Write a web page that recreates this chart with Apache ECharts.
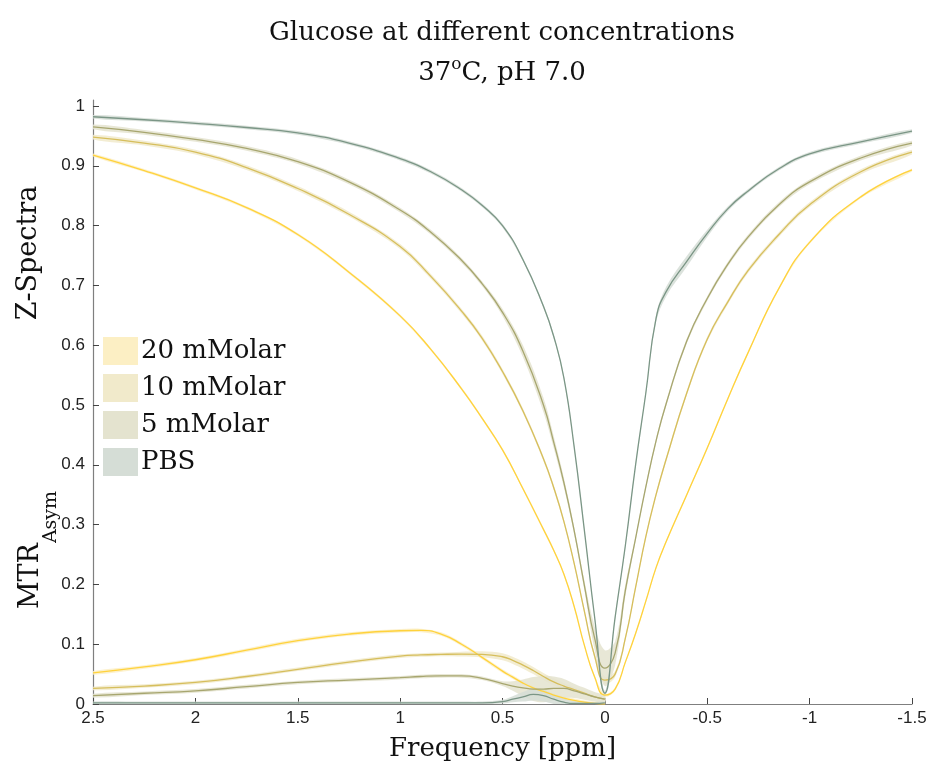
<!DOCTYPE html>
<html>
<head>
<meta charset="utf-8">
<script src="https://cdn.jsdelivr.net/npm/echarts@6/dist/echarts.min.js"></script>
<style>
  html, body { margin: 0; padding: 0; background: #ffffff; }
  #chart { width: 931px; height: 767px; }
</style>
</head>
<body>
<div id="chart"></div>
<script>
// ---- Z-spectra: normalised signal vs saturation offset (ppm) ----
const zFreq = [2.5, 2.25, 2.0, 1.75, 1.5, 1.25, 1.0, 0.85, 0.7, 0.6, 0.5, 0.4, 0.3, 0.25, 0.2, 0.15, 0.1, 0.05, 0,
               -0.05, -0.1, -0.15, -0.2, -0.25, -0.3, -0.4, -0.5, -0.6, -0.7, -0.85, -1.0, -1.25, -1.5];

const z20 = [0.918, 0.892, 0.863, 0.830, 0.785, 0.722, 0.649, 0.593, 0.527, 0.478, 0.425, 0.360, 0.292, 0.257, 0.217, 0.163, 0.098, 0.045, 0.015,
             0.025, 0.070, 0.118, 0.172, 0.228, 0.272, 0.350, 0.428, 0.510, 0.588, 0.695, 0.772, 0.848, 0.893];
const z20Sd = [0.0025, 0.0025, 0.0025, 0.0025, 0.0025, 0.0025, 0.0025, 0.0025, 0.0025, 0.0025, 0.0025, 0.0025, 0.0025, 0.0025, 0.0025, 0.0025, 0.0025, 0.0025, 0.0025,
               0.0025, 0.0025, 0.0025, 0.0025, 0.0025, 0.0025, 0.0025, 0.0025, 0.0025, 0.0025, 0.0025, 0.0025, 0.0025, 0.0025];

const z10 = [0.948, 0.938, 0.923, 0.897, 0.862, 0.819, 0.765, 0.715, 0.657, 0.612, 0.556, 0.490, 0.410, 0.362, 0.305, 0.235, 0.155, 0.080, 0.040,
             0.050, 0.110, 0.195, 0.280, 0.350, 0.410, 0.520, 0.610, 0.672, 0.725, 0.785, 0.835, 0.890, 0.923];
const z10Sd = [0.004, 0.004, 0.004, 0.004, 0.004, 0.004, 0.004, 0.004, 0.004, 0.004, 0.004, 0.004, 0.004, 0.004, 0.004, 0.004, 0.004, 0.005, 0.006,
               0.005, 0.004, 0.004, 0.004, 0.004, 0.004, 0.004, 0.004, 0.004, 0.004, 0.004, 0.004, 0.004, 0.004];

const z5 = [0.965, 0.956, 0.944, 0.929, 0.907, 0.873, 0.826, 0.789, 0.742, 0.703, 0.655, 0.590, 0.500, 0.438, 0.370, 0.290, 0.198, 0.110, 0.060,
            0.085, 0.190, 0.277, 0.363, 0.440, 0.503, 0.607, 0.678, 0.735, 0.781, 0.835, 0.873, 0.913, 0.938];
const z5Sd = [0.004, 0.004, 0.004, 0.004, 0.004, 0.004, 0.004, 0.004, 0.004, 0.004, 0.006, 0.010, 0.012, 0.010, 0.008, 0.006, 0.008, 0.020, 0.030,
              0.020, 0.010, 0.004, 0.004, 0.004, 0.004, 0.004, 0.004, 0.004, 0.004, 0.004, 0.004, 0.004, 0.004];

const zPBS = [0.982, 0.977, 0.971, 0.964, 0.955, 0.938, 0.912, 0.890, 0.860, 0.834, 0.800, 0.743, 0.665, 0.615, 0.545, 0.430, 0.290, 0.145, 0.018,
              0.145, 0.265, 0.400, 0.520, 0.645, 0.690, 0.740, 0.787, 0.828, 0.858, 0.895, 0.920, 0.940, 0.958];
const zPBSSd = [0.003, 0.003, 0.003, 0.003, 0.003, 0.003, 0.003, 0.003, 0.003, 0.003, 0.003, 0.003, 0.003, 0.003, 0.003, 0.003, 0.003, 0.003, 0.004,
                0.003, 0.003, 0.003, 0.003, 0.006, 0.008, 0.009, 0.006, 0.004, 0.003, 0.003, 0.003, 0.003, 0.003];

// ---- MTR asymmetry (positive offsets only) ----
const mtrFreq = [2.5, 2.25, 2.0, 1.75, 1.5, 1.25, 1.0, 0.9, 0.8, 0.7, 0.6, 0.5, 0.45, 0.4, 0.35, 0.3, 0.25, 0.2, 0.15, 0.1, 0.05, 0];

const mtr20 = [0.052, 0.062, 0.074, 0.090, 0.106, 0.117, 0.1225, 0.123, 0.117, 0.100, 0.078, 0.055, 0.045, 0.035, 0.027, 0.021, 0.015, 0.010, 0.006, 0.003, 0.001, 0.000];
const mtr20Sd = [0.003, 0.003, 0.003, 0.003, 0.003, 0.003, 0.003, 0.003, 0.003, 0.003, 0.003, 0.003, 0.003, 0.003, 0.003, 0.003, 0.003, 0.003, 0.003, 0.003, 0.003, 0.003];

const mtr10 = [0.026, 0.030, 0.036, 0.046, 0.058, 0.070, 0.080, 0.082, 0.083, 0.0835, 0.083, 0.079, 0.073, 0.065, 0.056, 0.046, 0.037, 0.030, 0.024, 0.018, 0.012, 0.008];
const mtr10Sd = [0.003, 0.003, 0.003, 0.003, 0.003, 0.003, 0.003, 0.003, 0.003, 0.004, 0.005, 0.006, 0.006, 0.006, 0.006, 0.006, 0.006, 0.005, 0.004, 0.003, 0.003, 0.003];

const mtr5 = [0.014, 0.018, 0.022, 0.029, 0.036, 0.040, 0.044, 0.046, 0.047, 0.047, 0.043, 0.034, 0.030, 0.027, 0.025, 0.025, 0.026, 0.026, 0.022, 0.017, 0.012, 0.008];
const mtr5Sd = [0.003, 0.003, 0.003, 0.003, 0.003, 0.003, 0.003, 0.003, 0.003, 0.003, 0.003, 0.004, 0.008, 0.014, 0.020, 0.022, 0.020, 0.016, 0.012, 0.010, 0.008, 0.006];

const mtrPBS = [0.002, 0.002, 0.002, 0.002, 0.002, 0.002, 0.002, 0.002, 0.002, 0.002, 0.002, 0.004, 0.008, 0.012, 0.016, 0.014, 0.008, 0.003, 0.001, 0.001, 0.001, 0.002];
const mtrPBSSd = [0.002, 0.002, 0.002, 0.002, 0.002, 0.002, 0.002, 0.002, 0.002, 0.002, 0.002, 0.003, 0.005, 0.008, 0.010, 0.010, 0.008, 0.006, 0.004, 0.003, 0.002, 0.002];

// ---- Axes ----
const xTicks = [2.5, 2, 1.5, 1, 0.5, 0, -0.5, -1, -1.5];
const yTicks = [0, 0.1, 0.2, 0.3, 0.4, 0.5, 0.6, 0.7, 0.8, 0.9, 1];

// ---- Groups (legend order) ----
const groupNames = ['20 mMolar', '10 mMolar', '5 mMolar', 'PBS'];
const zMeans = [z20, z10, z5, zPBS];
const zSds = [z20Sd, z10Sd, z5Sd, zPBSSd];
const mtrMeans = [mtr20, mtr10, mtr5, mtrPBS];
const mtrSds = [mtr20Sd, mtr10Sd, mtr5Sd, mtrPBSSd];

const lineColors = ['#FFD23C', '#D6BE5C', '#A7A66F', '#7B9686'];
const bandColors = ['#FCEFC4', '#F1EACB', '#E4E3CF', '#D5DDD6'];

const SERIF = '"DejaVu Serif", serif';
const SANS = '"Liberation Sans", Arial, sans-serif';
const SMOOTH = 0.5;

// shaded mean ± sd band: one polygon through the axis coordinates
function bandSeries(freq, mean, sd, g) {
  return {
    type: 'custom', name: groupNames[g], color: bandColors[g],
    silent: true, clip: true, z: 1,
    data: freq.map((f, i) => [f, mean[i] - sd[i], mean[i] + sd[i]]),
    encode: { x: 0, y: [1, 2] },
    renderItem: function (params, api) {
      if (params.dataIndex !== 0) return null;
      const upper = freq.map((f, i) => api.coord([f, mean[i] + sd[i]]));
      const lower = freq.map((f, i) => api.coord([f, mean[i] - sd[i]])).reverse();
      return {
        type: 'polygon',
        shape: { points: upper.concat(lower), smooth: 0.35 },
        style: { fill: bandColors[g], opacity: 0.85 }
      };
    }
  };
}

function meanLine(key, freq, mean, g) {
  return {
    type: 'line', name: key, data: freq.map((f, i) => [f, mean[i]]),
    symbol: 'none', smooth: SMOOTH, silent: true,
    lineStyle: { color: lineColors[g], width: 1.3 }, z: 3
  };
}

const series = [];
groupNames.forEach((name, g) => {
  series.push(bandSeries(zFreq, zMeans[g], zSds[g], g));
  series.push(bandSeries(mtrFreq, mtrMeans[g], mtrSds[g], g));
});
groupNames.forEach((name, g) => {
  series.push(meanLine('z-mean-' + g, zFreq, zMeans[g], g));
  series.push(meanLine('mtr-mean-' + g, mtrFreq, mtrMeans[g], g));
});

const chart = echarts.init(document.getElementById('chart'), null, { renderer: 'canvas' });

chart.setOption({
  animation: false,
  backgroundColor: '#ffffff',
  title: {
    text: 'Glucose at different concentrations',
    subtext: '37{sup|o}C, pH 7.0',
    left: 502, top: 20, textAlign: 'center', itemGap: 10, padding: 0,
    textStyle: { fontFamily: SERIF, fontSize: 26, fontWeight: 'normal', color: '#111' },
    subtextStyle: {
      fontFamily: SERIF, fontSize: 26, color: '#111', lineHeight: 34,
      rich: { sup: { fontFamily: SERIF, fontSize: 17, color: '#111', lineHeight: 12, verticalAlign: 'top' } }
    }
  },
  legend: {
    orient: 'vertical', left: 103, top: 337, padding: 0,
    icon: 'rect', itemWidth: 35, itemHeight: 28, itemGap: 9,
    selectedMode: false,
    textStyle: { fontFamily: SERIF, fontSize: 26, color: '#111', padding: [0, 0, 0, -2] },
    data: groupNames.map((n, g) => ({ name: n, itemStyle: { color: bandColors[g], opacity: 1 } }))
  },
  grid: { left: 93, right: 19, top: 100, bottom: 61, containLabel: false },
  xAxis: {
    type: 'value', inverse: true, min: -1.5, max: 2.5,
    name: 'Frequency [ppm]', nameLocation: 'middle', nameGap: 32,
    nameTextStyle: { fontFamily: SERIF, fontSize: 26, color: '#111' },
    axisLine: { onZero: false, lineStyle: { color: '#7f7f7f', width: 1.2 } },
    axisTick: { inside: true, length: 6, lineStyle: { color: '#444' }, customValues: xTicks },
    axisLabel: { customValues: xTicks, fontFamily: SANS, fontSize: 17, color: '#222', margin: 6,
                 formatter: v => String(v) },
    splitLine: { show: false }
  },
  yAxis: {
    type: 'value', min: 0, max: 1.01,
    axisLine: { show: true, onZero: false, lineStyle: { color: '#7f7f7f', width: 1.2 } },
    axisTick: { show: true, inside: true, length: 6, lineStyle: { color: '#444' }, customValues: yTicks },
    axisLabel: { customValues: yTicks, fontFamily: SANS, fontSize: 17, color: '#222', margin: 8,
                 formatter: v => String(v) },
    splitLine: { show: false }
  },
  graphic: [
    {
      type: 'text', x: 29, y: 253, rotation: Math.PI / 2,
      style: { text: 'Z-Spectra', fontFamily: SERIF, fontSize: 27, fill: '#111',
               textAlign: 'center', textVerticalAlign: 'middle' }
    },
    {
      type: 'text', x: 39, y: 550, rotation: Math.PI / 2,
      style: {
        text: '{m|MTR}{s|Asym}', textAlign: 'center', textVerticalAlign: 'middle',
        rich: {
          m: { fontFamily: SERIF, fontSize: 27, fill: '#111', color: '#111', verticalAlign: 'top' },
          s: { fontFamily: SERIF, fontSize: 19, fill: '#111', color: '#111', verticalAlign: 'bottom', padding: [25, 0, 0, 0] }
        }
      }
    }
  ],
  series: series
});
</script>
</body>
</html>
